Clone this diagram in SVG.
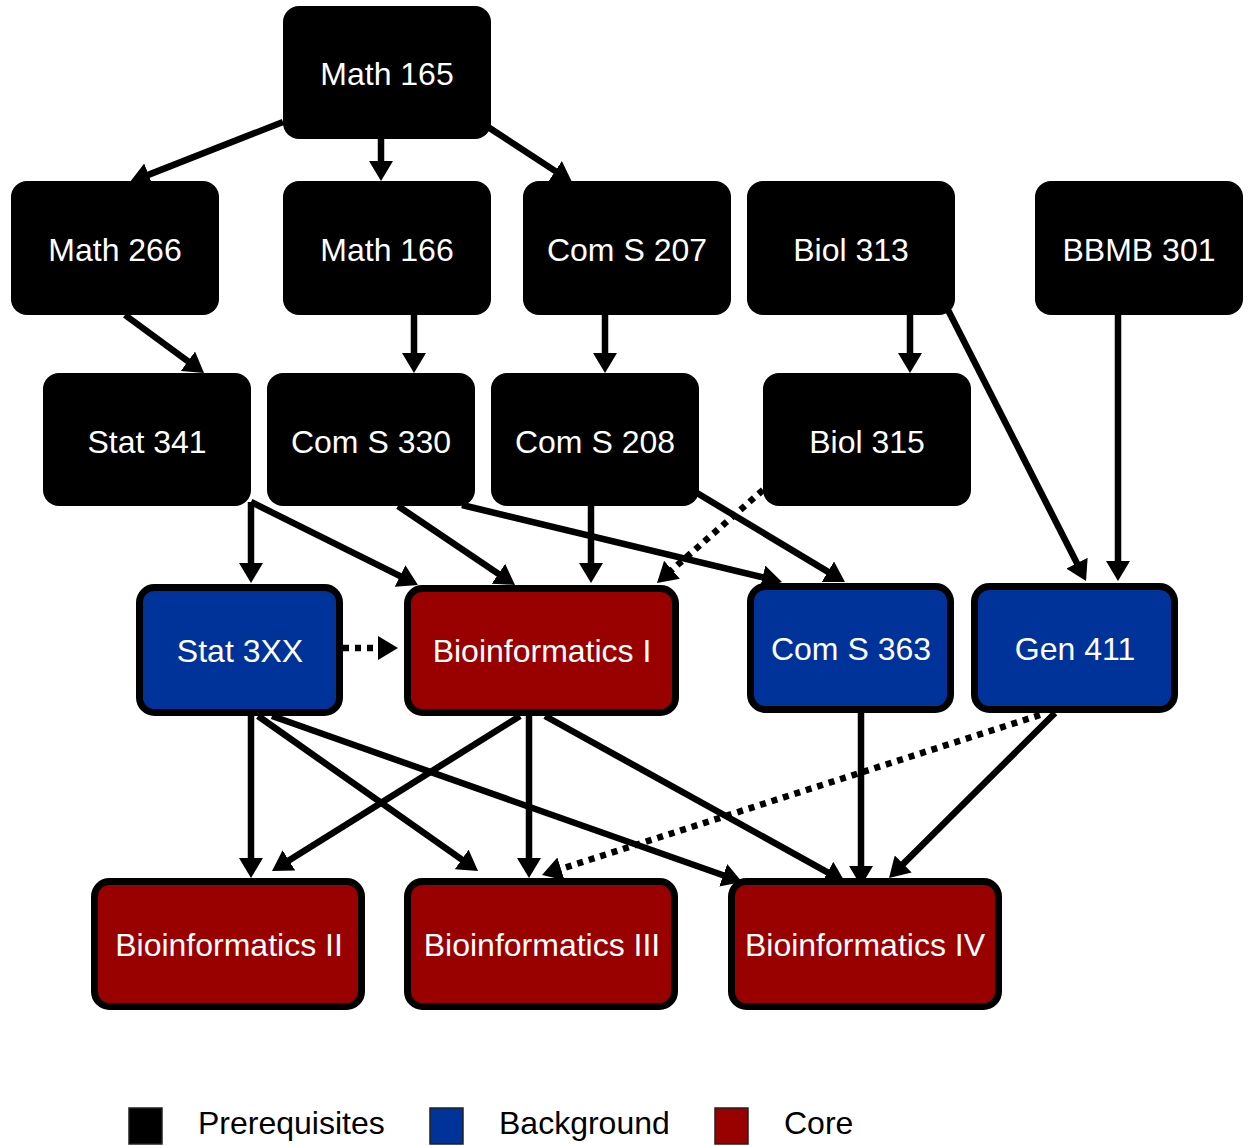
<svg xmlns="http://www.w3.org/2000/svg" width="1248" height="1146" viewBox="0 0 1248 1146">
<defs>
<marker id="ah" markerUnits="userSpaceOnUse" markerWidth="24" markerHeight="24" refX="12" refY="12" orient="auto" viewBox="0 0 24 24">
<path d="M0,0 L20,12 L0,24 z" fill="#000"/>
</marker>
</defs>
<style>
.pre{fill:#000;}
.bg{fill:#003399;stroke:#000;stroke-width:7;}
.core{fill:#990000;stroke:#000;stroke-width:7;}
.lbl{fill:#fff;font-family:"Liberation Sans",Arial,sans-serif;font-size:32px;text-anchor:middle;}
.e{stroke:#000;stroke-width:6.5;fill:none;marker-end:url(#ah);}
.d{stroke-dasharray:6 6;}
.leg{font-family:"Liberation Sans",Arial,sans-serif;font-size:32px;fill:#000;}
</style>
<rect width="1248" height="1146" fill="#fff"/>
<g id="connectors">
<line class="e" x1="283" y1="122" x2="137.4" y2="179.1"/>
<line class="e" x1="381" y1="139" x2="381" y2="173"/>
<line class="e" x1="488" y1="127" x2="565.3" y2="177.6"/>
<line class="e" x1="125" y1="315" x2="197.6" y2="368.3"/>
<line class="e" x1="414" y1="315" x2="414" y2="365"/>
<line class="e" x1="605" y1="315" x2="605" y2="365"/>
<line class="e" x1="910" y1="315" x2="910" y2="365"/>
<line class="e" x1="948" y1="310" x2="1082.4" y2="573.9"/>
<line class="e" x1="1118" y1="315" x2="1118" y2="573"/>
<line class="e" x1="251" y1="502" x2="251" y2="575"/>
<line class="e" x1="251" y1="502" x2="410.8" y2="581.4"/>
<line class="e" x1="398" y1="506" x2="508.4" y2="580.5"/>
<line class="e" x1="591" y1="506" x2="591" y2="575"/>
<line class="e" x1="462" y1="505" x2="774.2" y2="580.1"/>
<line class="e" x1="697" y1="493" x2="838.1" y2="577.9"/>
<line class="e d" x1="763" y1="490" x2="663" y2="577.7"/>
<line class="e d" x1="343" y1="648" x2="390" y2="648"/>
<line class="e" x1="251" y1="716" x2="251" y2="870"/>
<line class="e" x1="258" y1="716" x2="471.5" y2="866.4"/>
<line class="e" x1="272" y1="716" x2="734.5" y2="879.3"/>
<line class="e" x1="520" y1="716" x2="278.8" y2="866.8"/>
<line class="e" x1="529" y1="716" x2="529" y2="870"/>
<line class="e" x1="545" y1="716" x2="838" y2="878.1"/>
<line class="e" x1="861" y1="713" x2="861" y2="878"/>
<line class="e" x1="1055" y1="713" x2="894.7" y2="872.4"/>
<line class="e d" x1="1040" y1="715" x2="549.6" y2="872.6"/>
</g>
<g id="math165"><rect class="pre" x="283" y="6" width="208" height="133" rx="16"/><text class="lbl" x="387" y="85">Math 165</text></g>
<g id="math266"><rect class="pre" x="11" y="181" width="208" height="134" rx="16"/><text class="lbl" x="115" y="261">Math 266</text></g>
<g id="math166"><rect class="pre" x="283" y="181" width="208" height="134" rx="16"/><text class="lbl" x="387" y="261">Math 166</text></g>
<g id="coms207"><rect class="pre" x="523" y="181" width="208" height="134" rx="16"/><text class="lbl" x="627" y="261">Com S 207</text></g>
<g id="biol313"><rect class="pre" x="747" y="181" width="208" height="134" rx="16"/><text class="lbl" x="851" y="261">Biol 313</text></g>
<g id="bbmb301"><rect class="pre" x="1035" y="181" width="208" height="134" rx="16"/><text class="lbl" x="1139" y="261">BBMB 301</text></g>
<g id="stat341"><rect class="pre" x="43" y="373" width="208" height="133" rx="16"/><text class="lbl" x="147" y="453">Stat 341</text></g>
<g id="coms330"><rect class="pre" x="267" y="373" width="208" height="133" rx="16"/><text class="lbl" x="371" y="453">Com S 330</text></g>
<g id="coms208"><rect class="pre" x="491" y="373" width="208" height="133" rx="16"/><text class="lbl" x="595" y="453">Com S 208</text></g>
<g id="biol315"><rect class="pre" x="763" y="373" width="208" height="133" rx="16"/><text class="lbl" x="867" y="453">Biol 315</text></g>
<g id="stat3xx"><rect class="bg" x="139.5" y="587.5" width="200" height="125" rx="15"/><text class="lbl" x="240" y="662">Stat 3XX</text></g>
<g id="bioinf1"><rect class="core" x="407.5" y="588.5" width="268" height="124" rx="15"/><text class="lbl" x="542" y="662">Bioinformatics I</text></g>
<g id="coms363"><rect class="bg" x="750.5" y="586.5" width="200" height="123" rx="15"/><text class="lbl" x="851" y="660">Com S 363</text></g>
<g id="gen411"><rect class="bg" x="974.5" y="586.5" width="200" height="123" rx="15"/><text class="lbl" x="1075" y="660">Gen 411</text></g>
<g id="bioinf2"><rect class="core" x="94.5" y="881.5" width="267" height="125" rx="15"/><text class="lbl" x="229" y="956">Bioinformatics II</text></g>
<g id="bioinf3"><rect class="core" x="407.5" y="881.5" width="267" height="125" rx="15"/><text class="lbl" x="542" y="956">Bioinformatics III</text></g>
<g id="bioinf4"><rect class="core" x="731.5" y="881.5" width="267" height="125" rx="15"/><text class="lbl" x="865" y="956">Bioinformatics IV</text></g>
<g id="legend">
<rect x="129" y="1108" width="33" height="36" fill="#000" stroke="#222" stroke-width="1.5"/>
<text class="leg" x="198" y="1134">Prerequisites</text>
<rect x="430" y="1108" width="33" height="36" fill="#003399" stroke="#222" stroke-width="1.5"/>
<text class="leg" x="499" y="1134">Background</text>
<rect x="715" y="1108" width="33" height="36" fill="#990000" stroke="#222" stroke-width="1.5"/>
<text class="leg" x="784" y="1134">Core</text>
</g>
</svg>
